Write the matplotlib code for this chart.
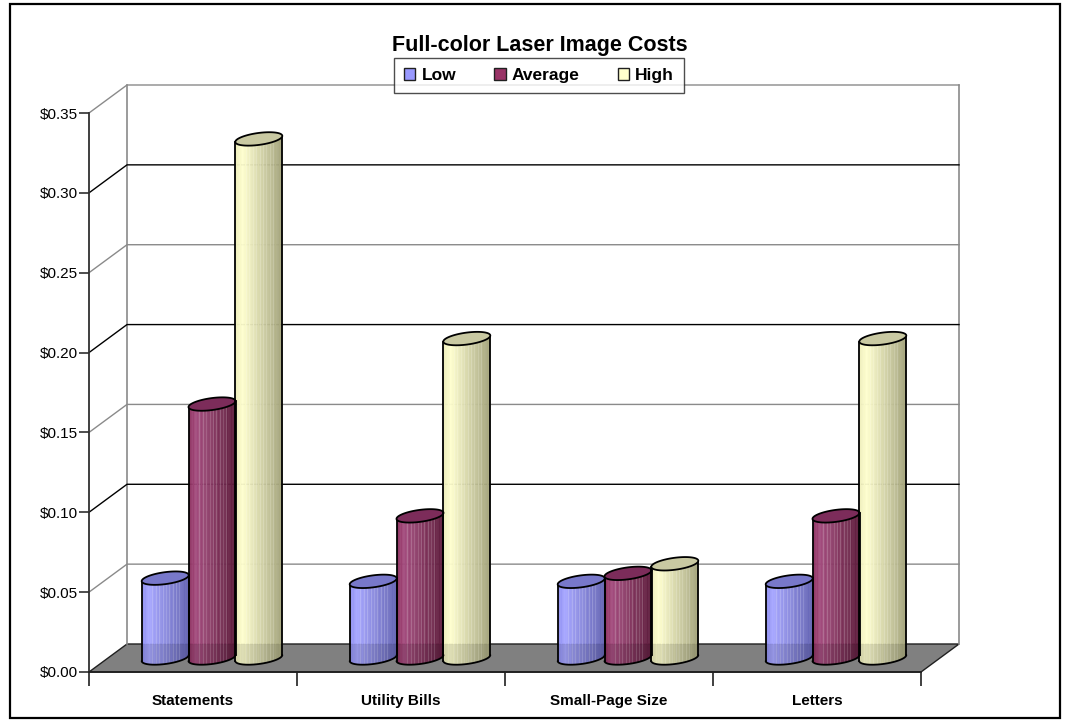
import matplotlib
matplotlib.use("Agg")
import matplotlib.pyplot as plt
import numpy as np
from matplotlib.patches import Polygon, Rectangle, Patch

plt.rcParams['font.family'] = ['Liberation Sans', 'DejaVu Sans']

# datos
categories = ["Statements", "Utility Bills", "Small-Page Size", "Letters"]
series = ["Low", "Average", "High"]
low = [0.050, 0.048, 0.048, 0.048]
average = [0.159, 0.089, 0.053, 0.089]
high = [0.325, 0.200, 0.059, 0.200]
yticks = [0.00, 0.05, 0.10, 0.15, 0.20, 0.25, 0.30, 0.35]
ytick_labels = ["$0.00", "$0.05", "$0.10", "$0.15", "$0.20", "$0.25", "$0.30", "$0.35"]
title = "Full-color Laser Image Costs"

# colores: base de leyenda, gradiente (izq, claro, oscuro), tapa
legend_colors = ["#9999ff", "#993366", "#ffffcc"]
grad_stops = [
    ["#8e8ef0", "#a6a6ff", "#6262b2"],
    ["#8a2a5a", "#a44c7e", "#5c1a3a"],
    ["#eeeebc", "#ffffcf", "#a2a27a"],
]
top_colors = ["#7878ca", "#7c2c5a", "#c9c9a2"]

W, H = 1068, 726
fig = plt.figure(figsize=(W / 100, H / 100), dpi=100)
ax = fig.add_axes([89 / W, (H - 672) / H, 832 / W, 559 / H])
ax.set_xlim(0, len(categories))
ax.set_ylim(0, 0.35)

px_x = 832 / len(categories)
px_y = 559 / 0.35
DX = 38 / px_x
DY = 28 / px_y
n = len(categories)
top = yticks[-1]

# marco exterior
fig.patches.append(Rectangle((10 / W, 1 - 718 / H), 1050 / W, 714 / H, transform=fig.transFigure,
                             facecolor='none', edgecolor='black', lw=1.6))

# piso
ax.add_patch(Polygon([(0, 0), (n, 0), (n + DX, DY), (DX, DY)], closed=True,
                     facecolor='#808080', edgecolor='#202020', lw=1.0, clip_on=False, zorder=1))

# pared del fondo y rejilla
wall_gray = '#8a8a8a'
ax.plot([DX, DX], [DY, top + DY], color=wall_gray, lw=1.2, clip_on=False, zorder=1)
ax.plot([n + DX, n + DX], [DY, top + DY], color=wall_gray, lw=1.2, clip_on=False, zorder=1)
for i, v in enumerate(yticks[1:]):
    c = wall_gray if i % 2 == 0 or v == top else 'black'
    ax.plot([0, DX, n + DX], [v, v + DY, v + DY], color=c, lw=1.0, clip_on=False, zorder=1)


def mix(c1, c2, f):
    a = np.array(matplotlib.colors.to_rgb(c1))
    b = np.array(matplotlib.colors.to_rgb(c2))
    return tuple(a + (b - a) * f)


def cylinder(cx, v, r, ry, k, stops, top_c, base):
    t_bot = np.linspace(np.pi, 2 * np.pi, 60)
    t_top = np.linspace(0, np.pi, 60)
    xb = cx + r * np.cos(t_bot)
    yb = base + ry * np.sin(t_bot) + k * np.cos(t_bot)
    xt = cx + r * np.cos(t_top)
    yt = v + ry * np.sin(t_top) + k * np.cos(t_top)
    body = Polygon(np.column_stack([np.r_[xb, xt], np.r_[yb, yt]]), closed=True,
                   facecolor='none', edgecolor='none', zorder=3)
    ax.add_patch(body)
    nstrip = 36
    w = 2 * r / nstrip
    for s in range(nstrip):
        u = (s + 0.5) / nstrip
        if u < 0.15:
            col = mix(stops[0], stops[1], u / 0.15)
        else:
            col = mix(stops[1], stops[2], (u - 0.15) / 0.85)
        rect = Rectangle((cx - r + s * w, base - ry - abs(k)), w, v - base + 2 * ry + 2 * abs(k),
                         facecolor=col, edgecolor=col, lw=0.4, zorder=3)
        ax.add_patch(rect)
        rect.set_clip_path(body)
    # rayas claras verticales
    for f in [0.22, 0.3, 0.37, 0.45, 0.52, 0.58, 0.66, 0.74, 0.8]:
        ln, = ax.plot([cx - r + f * 2 * r] * 2, [base - ry - abs(k), v + ry + abs(k)],
                      color='white', alpha=0.18, lw=0.8, zorder=3)
        ln.set_clip_path(body)
    # sombra bajo el borde trasero del piso
    sh = Rectangle((cx - r, base - ry - abs(k)), 2 * r, DY / 2 + ry + abs(k),
                   facecolor='black', alpha=0.1, edgecolor='none', zorder=3)
    ax.add_patch(sh)
    sh.set_clip_path(body)
    ax.plot(xb, yb, color='black', lw=1.3, zorder=4, solid_capstyle='round')
    ax.plot([cx - r, cx - r], [base - k, v - k], color='black', lw=1.3, zorder=4)
    ax.plot([cx + r, cx + r], [base + k, v + k], color='black', lw=1.3, zorder=4)
    t = np.linspace(0, 2 * np.pi, 120)
    ax.add_patch(Polygon(np.column_stack([cx + r * np.cos(t), v + ry * np.sin(t) + k * np.cos(t)]),
                         closed=True, facecolor=top_c, edgecolor='black', lw=1.3, zorder=4))


bar_w = 0.225
r = 23.5 / px_x
ry = 6.0 / px_y
k = 3.0 / px_y
for i in range(n):
    for j, vals in enumerate([low, average, high]):
        cx = i + 0.5 + (j - 1) * bar_w + DX / 2
        cylinder(cx, vals[i] + DY / 2, r, ry, k, grad_stops[j], top_colors[j], DY / 2)

# ejes
for side in ['top', 'right']:
    ax.spines[side].set_visible(False)
ax.spines['left'].set_color('#303030')
ax.spines['left'].set_linewidth(1.3)
ax.spines['bottom'].set_color('#202020')
ax.spines['bottom'].set_linewidth(1.3)
ax.spines['left'].set_zorder(2)
ax.spines['bottom'].set_zorder(2)
ax.patch.set_visible(False)

ax.set_yticks(yticks)
ax.set_yticklabels(ytick_labels, fontsize=11)
ax.tick_params(axis='y', direction='out', length=7, width=1.2, color='#303030', pad=1)

ax.set_xticks([i + 0.5 for i in range(n)])
ax.set_xticklabels(categories, fontsize=11, fontweight='bold')
ax.set_xticks(range(n + 1), minor=True)
ax.tick_params(axis='x', which='major', length=0, pad=16)
ax.tick_params(axis='x', which='minor', direction='out', length=10, width=1.2, color='#202020')

fig.text(540 / W, 1 - 45 / H, title, ha='center', va='center', fontsize=15.5, fontweight='bold')

handles = [Patch(facecolor=c, edgecolor='#202020', lw=1.0) for c in legend_colors]
leg = fig.legend(handles, series, loc='center', bbox_to_anchor=(539 / W, 1 - 75.5 / H), ncol=3,
                 prop={'weight': 'bold', 'size': 12.5}, frameon=True, fancybox=False,
                 edgecolor='#202020', handlelength=0.65, handleheight=0.65, handletextpad=0.35,
                 columnspacing=2.2, borderpad=0.6, borderaxespad=0)
leg.get_frame().set_linewidth(1.0)

fig.savefig("out.png", dpi=100)
